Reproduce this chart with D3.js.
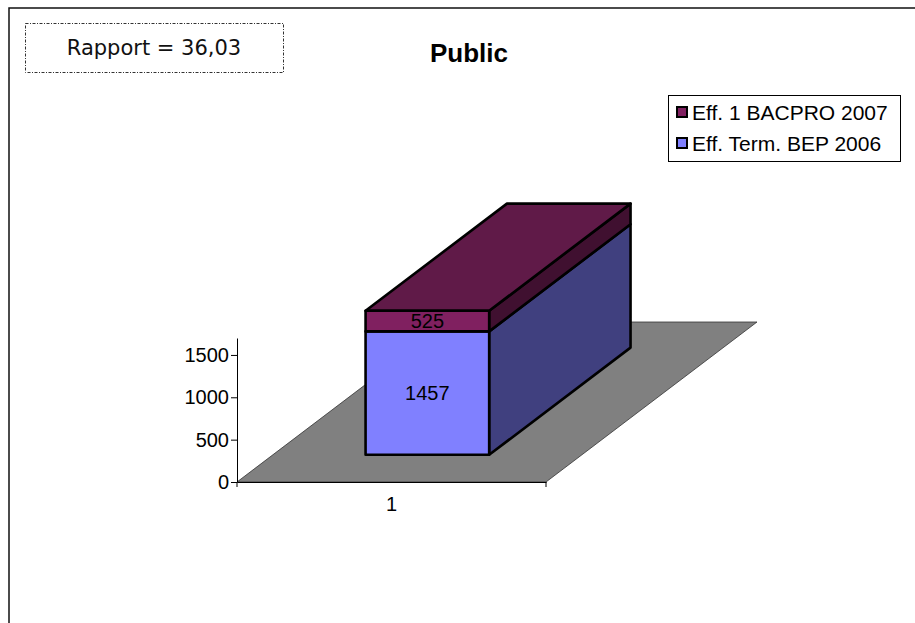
<!DOCTYPE html>
<html><head><meta charset="utf-8">
<script src="https://cdn.jsdelivr.net/npm/d3@7"></script>
<style>body{margin:0;background:#fff;} svg{display:block;}</style>
</head><body>
<svg id="c" width="915" height="623"></svg>
<script>
// ---- data ----
const categories = ["1"];
const seriesNames = ["Eff. Term. BEP 2006", "Eff. 1 BACPRO 2007"];
const bepValues = [1457];
const bacproValues = [525];
const yTicks = [0, 500, 1000, 1500];
const yMax = 1700;
const chartTitle = "Public";
const ratioText = "Rapport = 36,03";
const frontColors = ["#8080ff", "#802060"];
const sideColors = ["#40407f", "#401030"];
const topColor = "#601a48";

// ---- layout ----
const svg = d3.select("#c");
const plotL = 237, plotR = 546, floorY = 482, axisTopY = 338;
const depthDX = 211, depthDY = -160;   // full floor depth vector
const barFront = 0.17, barBack = 0.84;  // bar depth fractions

const x = d3.scaleBand().domain(categories).range([plotL, plotR]).paddingInner(0).paddingOuter(0.75);
const y = d3.scaleLinear().domain([0, yMax]).range([floorY, axisTopY]);
const P = (px, v, d) => [px + d * depthDX, y(v) + d * depthDY];

// chart area border
svg.append("path").attr("d", "M9,623V8H915").attr("fill", "none").attr("stroke", "#111").attr("stroke-width", 1.5);

// floor
const floorPts = [[plotL, floorY], [plotR, floorY], [plotR + depthDX, floorY + depthDY], [plotL + depthDX, floorY + depthDY]];
svg.append("polygon").attr("points", floorPts.map(p => p.join(",")).join(" "))
  .attr("fill", "#808080").attr("stroke", "#333").attr("stroke-width", 0.8);

// y axis
const yAxis = d3.axisLeft(y).tickValues(yTicks).tickFormat(d3.format("d")).tickSize(6).tickSizeOuter(0).tickPadding(2);
const gy = svg.append("g").attr("transform", `translate(${plotL},0)`).call(yAxis);
gy.selectAll("text").attr("font-family", "Arial, 'Liberation Sans', sans-serif").attr("font-size", 20).attr("fill", "#000");
gy.selectAll("line, path").attr("stroke", "#000");

// x axis
const xAxis = d3.axisBottom(x).tickSize(0).tickSizeOuter(0).tickPadding(15);
const gx = svg.append("g").attr("transform", `translate(0,${floorY})`).call(xAxis);
gx.selectAll("text").attr("font-family", "Arial, 'Liberation Sans', sans-serif").attr("font-size", 20).attr("fill", "#000");
gx.select("path").attr("stroke", "#000");
gx.selectAll(".edge").data(x.range()).enter().append("line").attr("class", "edge")
  .attr("x1", d => d).attr("x2", d => d).attr("y1", 0).attr("y2", 5).attr("stroke", "#000");

// stacked 3D bars
const line = d3.line();
const seriesVals = [bepValues, bacproValues];
categories.forEach((cat, i) => {
  const xa = x(cat), xb = x(cat) + x.bandwidth();
  let base = 0;
  const segs = seriesVals.map((vals, s) => {
    const v0 = Math.min(base, yMax), v1 = Math.min(base + vals[i], yMax);
    base += vals[i];
    return { s, v0, v1, val: vals[i] };
  });
  const g = svg.append("g");
  const poly = (pts, fill) => g.append("path").attr("d", line(pts) + "Z")
    .attr("fill", fill).attr("stroke", "#000").attr("stroke-width", 2.6).attr("stroke-linejoin", "round");
  // sides
  segs.forEach(sg => poly([P(xb, sg.v0, barFront), P(xb, sg.v0, barBack), P(xb, sg.v1, barBack), P(xb, sg.v1, barFront)], sideColors[sg.s]));
  // top
  const vt = segs[segs.length - 1].v1;
  poly([P(xa, vt, barFront), P(xb, vt, barFront), P(xb, vt, barBack), P(xa, vt, barBack)], topColor);
  // fronts
  segs.forEach(sg => poly([P(xa, sg.v0, barFront), P(xb, sg.v0, barFront), P(xb, sg.v1, barFront), P(xa, sg.v1, barFront)], frontColors[sg.s]));
  // labels
  segs.forEach(sg => {
    const c = P((xa + xb) / 2, (sg.v0 + sg.v1) / 2, barFront);
    g.append("text").attr("x", c[0]).attr("y", c[1]).attr("dy", "0.36em").attr("text-anchor", "middle")
      .attr("font-family", "Arial, 'Liberation Sans', sans-serif").attr("font-size", 20).attr("fill", "#000")
      .text(sg.val);
  });
});

// title
svg.append("text").attr("x", 469).attr("y", 62).attr("text-anchor", "middle")
  .attr("font-family", "Arial, 'Liberation Sans', sans-serif").attr("font-size", 26).attr("font-weight", "bold")
  .text(chartTitle);

// ratio box
svg.append("rect").attr("x", 25.5).attr("y", 23.5).attr("width", 258).attr("height", 49)
  .attr("fill", "#fff").attr("stroke", "#333").attr("stroke-width", 1).attr("stroke-dasharray", "3,1.5,1,1.5");
svg.append("text").attr("x", 154).attr("y", 55).attr("text-anchor", "middle")
  .attr("font-family", "'DejaVu Sans', Verdana, sans-serif").attr("font-size", 21).attr("fill", "#111")
  .text(ratioText);

// legend
const lg = svg.append("g");
lg.append("rect").attr("x", 668.5).attr("y", 95.5).attr("width", 232).attr("height", 66)
  .attr("fill", "#fff").attr("stroke", "#000").attr("stroke-width", 1);
const legendItems = [{ name: seriesNames[1], color: frontColors[1] }, { name: seriesNames[0], color: frontColors[0] }];
legendItems.forEach((d, k) => {
  const cy = 112 + k * 31;
  lg.append("rect").attr("x", 677).attr("y", cy - 5).attr("width", 10).attr("height", 10)
    .attr("fill", d.color).attr("stroke", "#000").attr("stroke-width", 2);
  lg.append("text").attr("x", 692).attr("y", cy + 7.5)
    .attr("font-family", "Arial, 'Liberation Sans', sans-serif").attr("font-size", 21).attr("fill", "#000")
    .text(d.name);
});
</script>
</body></html>
